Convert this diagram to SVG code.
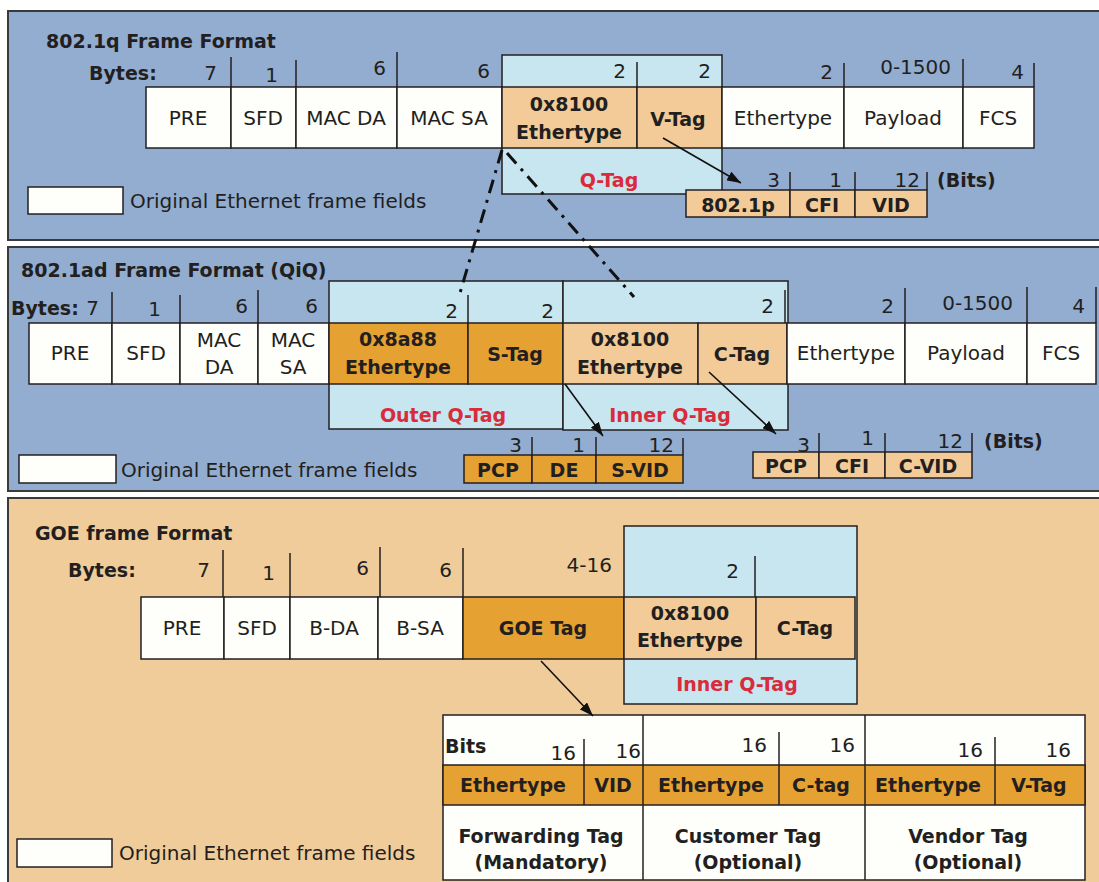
<svg xmlns="http://www.w3.org/2000/svg" width="1099" height="882" viewBox="0 0 1099 882">
<style>
.pb{fill:#92ADD0;stroke:#3a3a3a;stroke-width:2}
.pt{fill:#F0CC9A;stroke:#3a3a3a;stroke-width:2}
.lb{fill:#C8E6EF;stroke:#231F20;stroke-width:1.5}
.w{fill:#FEFEFA;stroke:#231F20;stroke-width:1.5}
.tn{fill:#F2CB98;stroke:#231F20;stroke-width:1.5}
.or{fill:#E5A232;stroke:#231F20;stroke-width:1.5}
.tk{stroke:#231F20;stroke-width:1.5;fill:none}
.t{font-family:"DejaVu Sans",sans-serif;font-size:20px;fill:#231F20}
.c{text-anchor:middle}
.e{text-anchor:end}
.b{font-family:"DejaVu Sans",sans-serif;font-size:19px;font-weight:bold;fill:#231F20}
.r{font-family:"DejaVu Sans",sans-serif;font-size:19px;font-weight:bold;fill:#D92B3A;text-anchor:middle}
.dd{stroke:#111;stroke-width:3;fill:none;stroke-dasharray:14 7 3 7}
.ar{stroke:#111;stroke-width:1.6;fill:none;marker-end:url(#ah)}
</style>
<defs>
<marker id="ah" viewBox="0 0 14 10" refX="14" refY="5" markerWidth="14" markerHeight="10" markerUnits="userSpaceOnUse" orient="auto">
<path d="M0,0 L14,5 L0,10 z" fill="#111"/>
</marker>
</defs>
<rect x="0" y="0" width="1099" height="882" fill="#ffffff"/>

<!-- Panel 1: 802.1q -->
<g id="panel-8021q">
<rect class="pb" x="8" y="11" width="1100" height="229"/>
<text class="b" x="46" y="48">802.1q Frame Format</text>
<text class="b" x="89" y="80">Bytes:</text>
<rect id="q-qtag-box" class="lb" x="502" y="55" width="220" height="139"/>
<g class="tk">
<line x1="231" y1="57" x2="231" y2="87"/><line x1="296" y1="60" x2="296" y2="87"/>
<line x1="397" y1="52" x2="397" y2="87"/><line x1="637" y1="62" x2="637" y2="87"/>
<line x1="844" y1="63" x2="844" y2="87"/><line x1="963" y1="59" x2="963" y2="87"/>
<line x1="1034" y1="63" x2="1034" y2="87"/>
</g>
<text class="t e" x="217" y="80">7</text>
<text class="t e" x="278" y="82">1</text>
<text class="t e" x="386" y="75">6</text>
<text class="t e" x="490" y="78">6</text>
<text class="t e" x="626" y="78">2</text>
<text class="t e" x="711" y="78">2</text>
<text class="t e" x="833" y="79">2</text>
<text class="t e" x="951" y="74">0-1500</text>
<text class="t e" x="1024" y="79">4</text>
<g id="q-pre"><rect class="w" x="146" y="87" width="85" height="61"/><text class="t c" x="188" y="125">PRE</text></g>
<g id="q-sfd"><rect class="w" x="231" y="87" width="65" height="61"/><text class="t c" x="263" y="125">SFD</text></g>
<g id="q-macda"><rect class="w" x="296" y="87" width="101" height="61"/><text class="t c" x="346" y="125">MAC DA</text></g>
<g id="q-macsa"><rect class="w" x="397" y="87" width="105" height="61"/><text class="t c" x="449" y="125">MAC SA</text></g>
<g id="q-tpid"><rect class="tn" x="502" y="87" width="135" height="61"/><text class="b c" x="569" y="111">0x8100</text><text class="b c" x="569" y="139">Ethertype</text></g>
<g id="q-vtag"><rect class="tn" x="637" y="87" width="85" height="61"/><text class="b c" x="678" y="126">V-Tag</text></g>
<g id="q-ethertype"><rect class="w" x="722" y="87" width="122" height="61"/><text class="t c" x="783" y="125">Ethertype</text></g>
<g id="q-payload"><rect class="w" x="844" y="87" width="119" height="61"/><text class="t c" x="903" y="125">Payload</text></g>
<g id="q-fcs"><rect class="w" x="963" y="87" width="71" height="61"/><text class="t c" x="998" y="125">FCS</text></g>
<text class="r" x="609" y="187">Q-Tag</text>
<g id="q-bits">
<g class="tk"><line x1="790" y1="172" x2="790" y2="190"/><line x1="855" y1="172" x2="855" y2="190"/><line x1="927" y1="172" x2="927" y2="190"/></g>
<text class="t e" x="780" y="187">3</text>
<text class="t e" x="842" y="187">1</text>
<text class="t e" x="920" y="187">12</text>
<text class="b" x="937" y="187">(Bits)</text>
<rect class="tn" x="686" y="190" width="104" height="27"/><text class="b c" x="738" y="212">802.1p</text>
<rect class="tn" x="790" y="190" width="65" height="27"/><text class="b c" x="822" y="212">CFI</text>
<rect class="tn" x="855" y="190" width="72" height="27"/><text class="b c" x="891" y="212">VID</text>
</g>
<g id="q-legend"><rect class="w" x="28" y="187" width="95" height="27"/><text class="t" x="130" y="208">Original Ethernet frame fields</text></g>
</g>

<!-- Panel 2: 802.1ad -->
<g id="panel-8021ad">
<rect class="pb" x="8" y="247" width="1100" height="244"/>
<text class="b" x="21" y="277">802.1ad Frame Format (QiQ)</text>
<text class="b" x="11" y="315">Bytes:</text>
<rect id="ad-outer-box" class="lb" x="329" y="281" width="234" height="148"/>
<rect id="ad-inner-box" class="lb" x="563" y="281" width="225" height="149"/>
<g class="tk">
<line x1="112" y1="292" x2="112" y2="323"/><line x1="180" y1="295" x2="180" y2="323"/>
<line x1="258" y1="290" x2="258" y2="323"/><line x1="468" y1="295" x2="468" y2="323"/>
<line x1="785" y1="290" x2="785" y2="323"/><line x1="905" y1="288" x2="905" y2="323"/>
<line x1="1027" y1="287" x2="1027" y2="323"/><line x1="1096" y1="287" x2="1096" y2="323"/>
</g>
<text class="t e" x="99" y="315">7</text>
<text class="t e" x="161" y="316">1</text>
<text class="t e" x="248" y="313">6</text>
<text class="t e" x="318" y="313">6</text>
<text class="t e" x="458" y="318">2</text>
<text class="t e" x="554" y="318">2</text>
<text class="t e" x="774" y="313">2</text>
<text class="t e" x="894" y="313">2</text>
<text class="t e" x="1013" y="310">0-1500</text>
<text class="t e" x="1085" y="313">4</text>
<g id="ad-pre"><rect class="w" x="29" y="323" width="83" height="61"/><text class="t c" x="70" y="360">PRE</text></g>
<g id="ad-sfd"><rect class="w" x="112" y="323" width="68" height="61"/><text class="t c" x="146" y="360">SFD</text></g>
<g id="ad-macda"><rect class="w" x="180" y="323" width="78" height="61"/><text class="t c" x="219" y="347">MAC</text><text class="t c" x="219" y="374">DA</text></g>
<g id="ad-macsa"><rect class="w" x="258" y="323" width="71" height="61"/><text class="t c" x="293" y="347">MAC</text><text class="t c" x="293" y="374">SA</text></g>
<g id="ad-stpid"><rect class="or" x="329" y="323" width="139" height="61"/><text class="b c" x="398" y="346">0x8a88</text><text class="b c" x="398" y="374">Ethertype</text></g>
<g id="ad-stag"><rect class="or" x="468" y="323" width="95" height="61"/><text class="b c" x="515" y="361">S-Tag</text></g>
<g id="ad-ctpid"><rect class="tn" x="563" y="323" width="135" height="61"/><text class="b c" x="630" y="346">0x8100</text><text class="b c" x="630" y="374">Ethertype</text></g>
<g id="ad-ctag"><rect class="tn" x="698" y="323" width="89" height="61"/><text class="b c" x="742" y="361">C-Tag</text></g>
<g id="ad-ethertype"><rect class="w" x="787" y="323" width="118" height="61"/><text class="t c" x="846" y="360">Ethertype</text></g>
<g id="ad-payload"><rect class="w" x="905" y="323" width="122" height="61"/><text class="t c" x="966" y="360">Payload</text></g>
<g id="ad-fcs"><rect class="w" x="1027" y="323" width="69" height="61"/><text class="t c" x="1061" y="360">FCS</text></g>
<text class="r" x="443" y="422">Outer Q-Tag</text>
<text class="r" x="670" y="422">Inner Q-Tag</text>
<g id="ad-sbits">
<g class="tk"><line x1="532" y1="437" x2="532" y2="455"/><line x1="596" y1="437" x2="596" y2="455"/><line x1="683" y1="438" x2="683" y2="455"/></g>
<text class="t e" x="522" y="452">3</text>
<text class="t e" x="585" y="452">1</text>
<text class="t e" x="674" y="452">12</text>
<rect class="or" x="464" y="455" width="68" height="28"/><text class="b c" x="498" y="477">PCP</text>
<rect class="or" x="532" y="455" width="64" height="28"/><text class="b c" x="564" y="477">DE</text>
<rect class="or" x="596" y="455" width="87" height="28"/><text class="b c" x="640" y="477">S-VID</text>
</g>
<g id="ad-cbits">
<g class="tk"><line x1="819" y1="433" x2="819" y2="452"/><line x1="885" y1="433" x2="885" y2="452"/><line x1="972" y1="433" x2="972" y2="452"/></g>
<rect class="tn" x="753" y="452" width="66" height="26"/><text class="b c" x="786" y="473">PCP</text>
<rect class="tn" x="819" y="452" width="66" height="26"/><text class="b c" x="852" y="473">CFI</text>
<rect class="tn" x="885" y="452" width="87" height="26"/><text class="b c" x="928" y="473">C-VID</text>
<text class="t e" x="810" y="452">3</text>
<text class="t e" x="874" y="445">1</text>
<text class="t e" x="963" y="448">12</text>
<text class="b" x="984" y="448">(Bits)</text>
</g>
<g id="ad-legend"><rect class="w" x="19" y="455" width="97" height="28"/><text class="t" x="121" y="477">Original Ethernet frame fields</text></g>
</g>

<!-- Panel 3: GOE -->
<g id="panel-goe">
<rect class="pt" x="8" y="498" width="1100" height="390"/>
<text class="b" x="35" y="540">GOE frame Format</text>
<text class="b" x="68" y="577">Bytes:</text>
<rect id="goe-inner-box" class="lb" x="624" y="526" width="233" height="178"/>
<g class="tk">
<line x1="223" y1="550" x2="223" y2="620"/><line x1="290" y1="553" x2="290" y2="597"/>
<line x1="380" y1="547" x2="380" y2="617"/><line x1="463" y1="548" x2="463" y2="597"/>
<line x1="755" y1="556" x2="755" y2="597"/>
</g>
<text class="t e" x="210" y="577">7</text>
<text class="t e" x="275" y="580">1</text>
<text class="t e" x="369" y="575">6</text>
<text class="t e" x="452" y="577">6</text>
<text class="t e" x="612" y="572">4-16</text>
<text class="t e" x="739" y="578">2</text>
<g id="goe-pre"><rect class="w" x="141" y="597" width="83" height="62"/><text class="t c" x="182" y="635">PRE</text></g>
<g id="goe-sfd"><rect class="w" x="224" y="597" width="66" height="62"/><text class="t c" x="257" y="635">SFD</text></g>
<g id="goe-bda"><rect class="w" x="290" y="597" width="88" height="62"/><text class="t c" x="334" y="635">B-DA</text></g>
<g id="goe-bsa"><rect class="w" x="378" y="597" width="85" height="62"/><text class="t c" x="420" y="635">B-SA</text></g>
<g id="goe-tag"><rect class="or" x="463" y="597" width="161" height="62"/><text class="b c" x="543" y="635">GOE Tag</text></g>
<g id="goe-ctpid"><rect class="tn" x="624" y="597" width="132" height="62"/><text class="b c" x="690" y="620">0x8100</text><text class="b c" x="690" y="647">Ethertype</text></g>
<g id="goe-ctag"><rect class="tn" x="756" y="597" width="99" height="62"/><text class="b c" x="805" y="635">C-Tag</text></g>
<text class="r" x="737" y="691">Inner Q-Tag</text>
<g id="goe-table">
<rect class="w" x="443" y="715" width="642" height="165"/>
<rect class="or" x="443" y="765" width="642" height="40"/>
<g class="tk">
<line x1="643" y1="715" x2="643" y2="880"/><line x1="865" y1="715" x2="865" y2="880"/>
<line x1="584" y1="739" x2="584" y2="805"/><line x1="779" y1="732" x2="779" y2="805"/>
<line x1="995" y1="737" x2="995" y2="805"/>
</g>
<text class="b" x="445" y="753">Bits</text>
<text class="t e" x="576" y="760">16</text>
<text class="t e" x="641" y="758">16</text>
<text class="t e" x="767" y="752">16</text>
<text class="t e" x="855" y="752">16</text>
<text class="t e" x="983" y="757">16</text>
<text class="t e" x="1071" y="757">16</text>
<g id="goe-fwd"><text class="b c" x="513" y="792">Ethertype</text><text class="b c" x="613" y="792">VID</text><text class="b c" x="541" y="843">Forwarding Tag</text><text class="b c" x="541" y="869">(Mandatory)</text></g>
<g id="goe-cust"><text class="b c" x="711" y="792">Ethertype</text><text class="b c" x="821" y="792">C-tag</text><text class="b c" x="748" y="843">Customer Tag</text><text class="b c" x="748" y="869">(Optional)</text></g>
<g id="goe-vend"><text class="b c" x="928" y="792">Ethertype</text><text class="b c" x="1039" y="792">V-Tag</text><text class="b c" x="968" y="843">Vendor Tag</text><text class="b c" x="968" y="869">(Optional)</text></g>
</g>
<g id="goe-legend"><rect class="w" x="17" y="839" width="95" height="28"/><text class="t" x="119" y="860">Original Ethernet frame fields</text></g>
</g>

<!-- Connectors -->
<g id="connectors">
<line class="dd" x1="502" y1="150" x2="460" y2="293"/>
<line class="dd" x1="507" y1="153" x2="634" y2="297"/>
<line class="ar" x1="663" y1="138" x2="741" y2="183"/>
<line class="ar" x1="565" y1="384" x2="603" y2="436"/>
<line class="ar" x1="709" y1="372" x2="776" y2="434"/>
<line class="ar" x1="541" y1="661" x2="593" y2="716"/>
</g>
</svg>
